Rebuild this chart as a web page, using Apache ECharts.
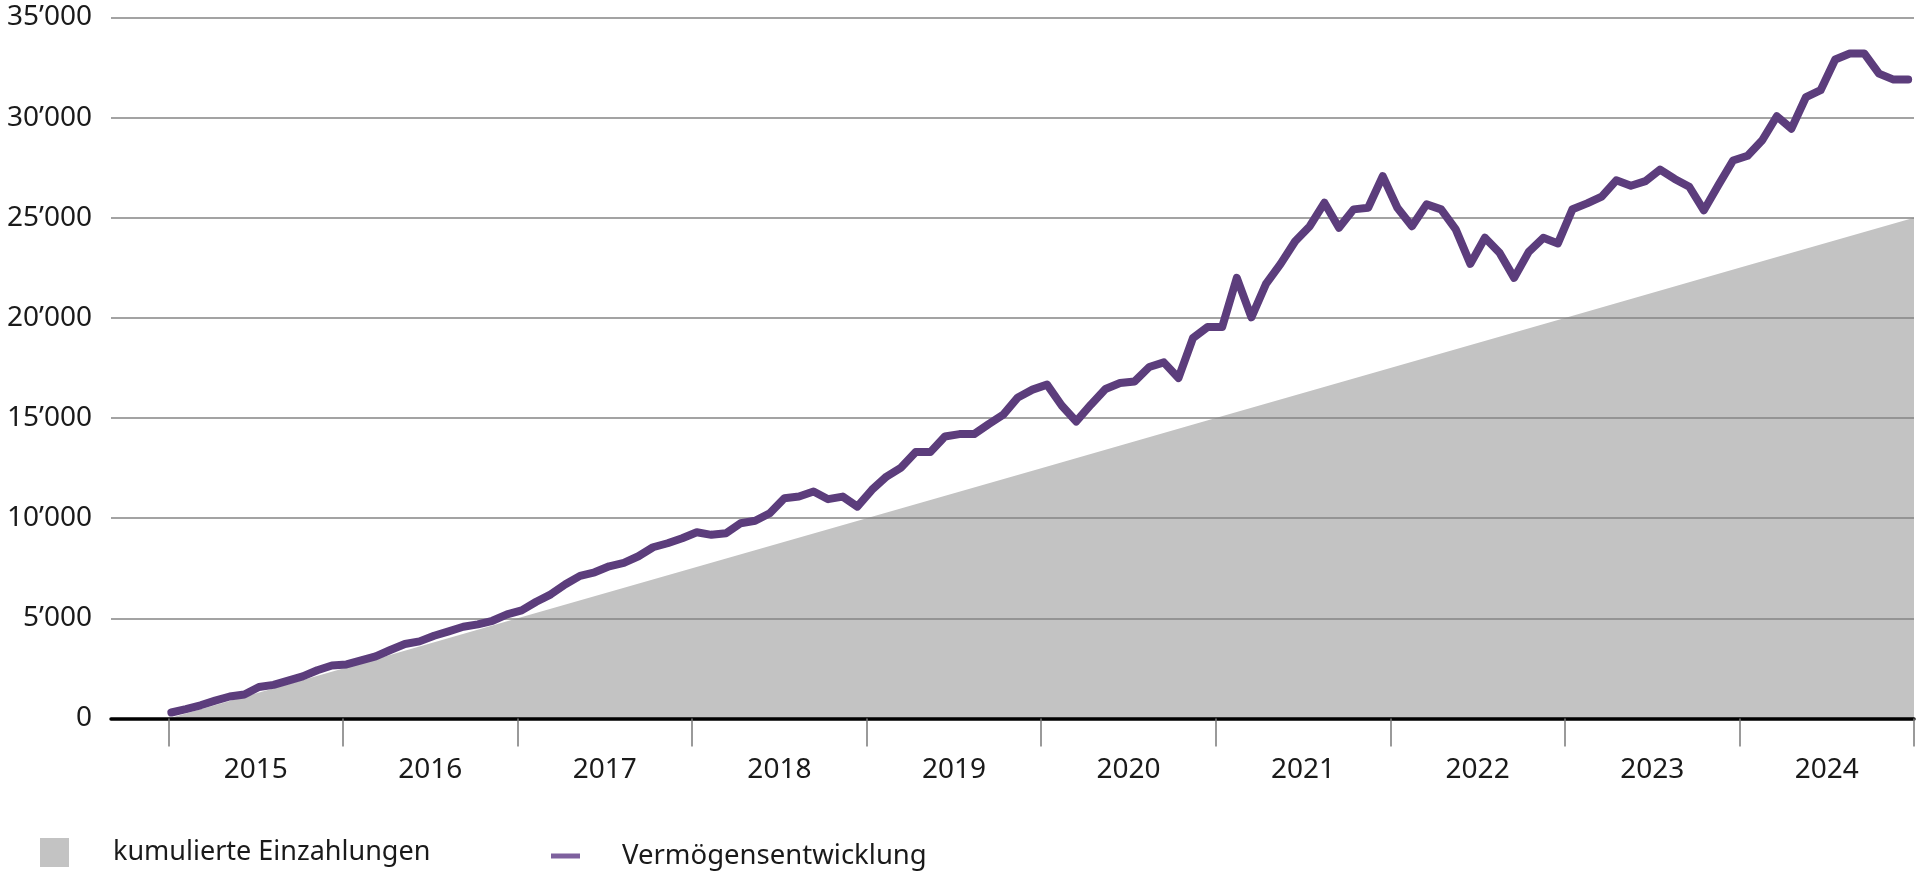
<!DOCTYPE html>
<html>
<head>
<meta charset="utf-8">
<script src="https://cdn.jsdelivr.net/npm/echarts@6/dist/echarts.min.js"></script>
<style>
html,body{margin:0;padding:0;background:#ffffff;}
#chart{width:1920px;height:877px;}
</style>
</head>
<body>
<div id="chart"></div>
<script>
// Year labels (one per year band)
const years = ['2015','2016','2017','2018','2019','2020','2021','2022','2023','2024'];
// Year boundary positions in months since Jan 2015
const yearBoundaries = [0,12,24,36,48,60,72,84,96,108,120];
// Cumulative deposits at each year boundary
const deposits = [0,2500,5000,7500,10000,12500,15000,17500,20000,22500,25000];
// Monthly wealth development (Jan 2015 .. Dec 2024)
const wealth = [
  300,470,660,890,1100,1200,1570,1680,1890,2100,2410,2650,
  2700,2900,3100,3420,3720,3850,4130,4350,4580,4700,4880,5200,
  5400,5830,6200,6700,7120,7300,7600,7770,8100,8550,8750,9000,
  9300,9170,9250,9750,9870,10250,11000,11080,11330,10950,11080,10580,
  11420,12080,12530,13300,13300,14080,14200,14200,14700,15170,16030,16420,
  16670,15630,14830,15670,16450,16750,16830,17550,17780,17000,19000,19550,
  19550,22000,20030,21700,22700,23830,24580,25750,24500,25420,25500,27080,
  25500,24580,25670,25420,24420,22700,24000,23250,22000,23300,24000,23720,
  25430,25720,26060,26870,26600,26830,27410,26940,26550,25370,26640,27860,
  28100,28870,30070,29450,31030,31370,32900,33200,33200,32200,31900,31900
];
const yTicks = [0,5000,10000,15000,20000,25000,30000,35000];

function fmtThousands(v){
  const s = String(Math.round(v));
  return s.replace(/\B(?=(\d{3})+(?!\d))/g, '\u2019');
}
// x position of monthly points (months since Jan 2015)
const monthPos = i => 0.2 + i * (119.4 / 119);

const FONT = 'Noto Sans';
const TXT = '#1a1a1a';

const chart = echarts.init(document.getElementById('chart'), null, {renderer:'canvas'});
chart.setOption({
  animation: false,
  backgroundColor: '#ffffff',
  textStyle: {fontFamily: FONT},
  grid: {left: 111, right: 6, top: 17.5, bottom: 158.5, containLabel: false},
  legend: [
    {
      data: [{name: 'kumulierte Einzahlungen', icon: 'rect'}],
      left: 40, top: 838, padding: 0,
      itemWidth: 29, itemHeight: 29,
      selectedMode: false,
      textStyle: {fontSize: 27, color: TXT, fontFamily: FONT, padding: [7,0,0,39]}
    },
    {
      data: [{name: 'Vermögensentwicklung', icon: 'rect', itemStyle: {color: '#7e619e'}}],
      left: 551, top: 842, padding: 0,
      itemWidth: 29, itemHeight: 5,
      selectedMode: false,
      textStyle: {fontSize: 27.5, color: TXT, fontFamily: FONT, padding: [0,0,10,37]}
    }
  ],
  xAxis: {
    type: 'value',
    min: -3.95, max: 120,
    z: 4,
    splitLine: {show: false},
    axisLine: {show: true, onZero: false, lineStyle: {color: '#000000', width: 3.5}},
    axisTick: {show: true, customValues: yearBoundaries, length: 28, lineStyle: {color: '#7a7a7a', width: 1.5}},
    axisLabel: {
      show: true,
      customValues: years.map((y, k) => yearBoundaries[k] + 6),
      formatter: v => years[Math.round((v - 6) / 12)],
      fontSize: 28, color: TXT, fontFamily: FONT, margin: 38
    }
  },
  yAxis: {
    type: 'value',
    min: 0, max: 35000, interval: 5000,
    z: 2,
    axisLine: {show: false},
    axisTick: {show: false},
    splitLine: {show: true, lineStyle: {color: '#858585', width: 1.5}},
    axisLabel: {formatter: v => fmtThousands(v), fontSize: 28, color: TXT, fontFamily: FONT, margin: 19}
  },
  series: [
    {
      name: 'kumulierte Einzahlungen',
      type: 'line',
      z: 1,
      symbol: 'none',
      itemStyle: {color: '#c3c3c3'},
      lineStyle: {width: 0},
      areaStyle: {color: '#c3c3c3', opacity: 1},
      data: deposits.map((v, k) => [yearBoundaries[k], v])
    },
    {
      name: 'Vermögensentwicklung',
      type: 'line',
      z: 3,
      symbol: 'none',
      itemStyle: {color: '#5c3d7c'},
      lineStyle: {color: '#5c3d7c', width: 8, cap: 'round', join: 'round'},
      data: wealth.map((v, i) => [monthPos(i), v])
    }
  ]
});
</script>
</body>
</html>
